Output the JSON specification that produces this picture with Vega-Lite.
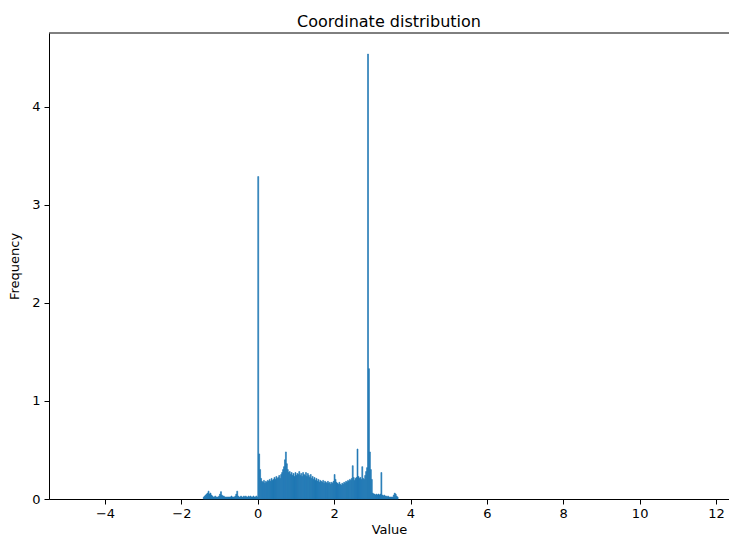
{
  "$schema": "https://vega.github.io/schema/vega-lite/v6.json",
  "width": 680,
  "height": 466,
  "autosize": {"type": "none"},
  "padding": {"left": 49, "top": 33, "right": 0, "bottom": 37},
  "background": "white",
  "title": {"text": "Coordinate distribution", "font": "DejaVu Sans", "fontSize": 16, "fontWeight": "normal", "color": "#000000", "anchor": "middle", "offset": 3},
  "config": {
    "view": {"stroke": null},
    "axis": {
      "domainColor": "#000000", "domainWidth": 1, "tickColor": "#000000", "tickWidth": 1, "tickSize": 5,
      "labelColor": "#000000", "labelFont": "DejaVu Sans", "labelFontSize": 13, "labelPadding": 3,
      "titleColor": "#000000", "titleFont": "DejaVu Sans", "titleFontSize": 13, "titleFontWeight": "normal",
      "grid": false, "labelFlush": false, "labelOverlap": false
    }
  },
  "datasets": {
    "hist": [
      {"x0": -1.425, "x1": -1.4, "density": 0.02},
      {"x0": -1.4, "x1": -1.375, "density": 0.03},
      {"x0": -1.375, "x1": -1.35, "density": 0.04},
      {"x0": -1.35, "x1": -1.325, "density": 0.05},
      {"x0": -1.325, "x1": -1.3, "density": 0.06},
      {"x0": -1.3, "x1": -1.275, "density": 0.08},
      {"x0": -1.275, "x1": -1.25, "density": 0.05},
      {"x0": -1.25, "x1": -1.225, "density": 0.06},
      {"x0": -1.225, "x1": -1.2, "density": 0.04},
      {"x0": -1.2, "x1": -1.175, "density": 0.03},
      {"x0": -1.175, "x1": -1.15, "density": 0.02},
      {"x0": -1.15, "x1": -1.125, "density": 0.02},
      {"x0": -1.125, "x1": -1.1, "density": 0.03},
      {"x0": -1.1, "x1": -1.075, "density": 0.02},
      {"x0": -1.075, "x1": -1.05, "density": 0.02},
      {"x0": -1.05, "x1": -1.025, "density": 0.02},
      {"x0": -1.025, "x1": -1.0, "density": 0.03},
      {"x0": -1.0, "x1": -0.975, "density": 0.05},
      {"x0": -0.975, "x1": -0.95, "density": 0.075},
      {"x0": -0.95, "x1": -0.925, "density": 0.04},
      {"x0": -0.925, "x1": -0.9, "density": 0.03},
      {"x0": -0.9, "x1": -0.875, "density": 0.03},
      {"x0": -0.875, "x1": -0.85, "density": 0.02},
      {"x0": -0.85, "x1": -0.825, "density": 0.02},
      {"x0": -0.825, "x1": -0.8, "density": 0.02},
      {"x0": -0.8, "x1": -0.775, "density": 0.02},
      {"x0": -0.775, "x1": -0.75, "density": 0.02},
      {"x0": -0.75, "x1": -0.725, "density": 0.02},
      {"x0": -0.725, "x1": -0.7, "density": 0.02},
      {"x0": -0.7, "x1": -0.675, "density": 0.03},
      {"x0": -0.675, "x1": -0.65, "density": 0.02},
      {"x0": -0.65, "x1": -0.625, "density": 0.02},
      {"x0": -0.625, "x1": -0.6, "density": 0.02},
      {"x0": -0.6, "x1": -0.575, "density": 0.03},
      {"x0": -0.575, "x1": -0.55, "density": 0.05},
      {"x0": -0.55, "x1": -0.525, "density": 0.08},
      {"x0": -0.525, "x1": -0.5, "density": 0.03},
      {"x0": -0.5, "x1": -0.475, "density": 0.02},
      {"x0": -0.475, "x1": -0.45, "density": 0.02},
      {"x0": -0.45, "x1": -0.425, "density": 0.03},
      {"x0": -0.425, "x1": -0.4, "density": 0.02},
      {"x0": -0.4, "x1": -0.375, "density": 0.02},
      {"x0": -0.375, "x1": -0.35, "density": 0.03},
      {"x0": -0.35, "x1": -0.325, "density": 0.02},
      {"x0": -0.325, "x1": -0.3, "density": 0.03},
      {"x0": -0.3, "x1": -0.275, "density": 0.02},
      {"x0": -0.275, "x1": -0.25, "density": 0.02},
      {"x0": -0.25, "x1": -0.225, "density": 0.03},
      {"x0": -0.225, "x1": -0.2, "density": 0.02},
      {"x0": -0.2, "x1": -0.175, "density": 0.03},
      {"x0": -0.175, "x1": -0.15, "density": 0.02},
      {"x0": -0.15, "x1": -0.125, "density": 0.02},
      {"x0": -0.125, "x1": -0.1, "density": 0.03},
      {"x0": -0.1, "x1": -0.075, "density": 0.02},
      {"x0": -0.075, "x1": -0.05, "density": 0.02},
      {"x0": -0.05, "x1": -0.025, "density": 0.03},
      {"x0": -0.025, "x1": 0.0, "density": 0.02},
      {"x0": 0.0, "x1": 0.025, "density": 3.29},
      {"x0": 0.025, "x1": 0.05, "density": 0.46},
      {"x0": 0.05, "x1": 0.075, "density": 0.3},
      {"x0": 0.075, "x1": 0.1, "density": 0.21},
      {"x0": 0.1, "x1": 0.125, "density": 0.18},
      {"x0": 0.125, "x1": 0.15, "density": 0.17},
      {"x0": 0.15, "x1": 0.175, "density": 0.19},
      {"x0": 0.175, "x1": 0.2, "density": 0.16},
      {"x0": 0.2, "x1": 0.225, "density": 0.18},
      {"x0": 0.225, "x1": 0.25, "density": 0.17},
      {"x0": 0.25, "x1": 0.275, "density": 0.19},
      {"x0": 0.275, "x1": 0.3, "density": 0.18},
      {"x0": 0.3, "x1": 0.325, "density": 0.2},
      {"x0": 0.325, "x1": 0.35, "density": 0.18},
      {"x0": 0.35, "x1": 0.375, "density": 0.21},
      {"x0": 0.375, "x1": 0.4, "density": 0.19},
      {"x0": 0.4, "x1": 0.425, "density": 0.2},
      {"x0": 0.425, "x1": 0.45, "density": 0.22},
      {"x0": 0.45, "x1": 0.475, "density": 0.2},
      {"x0": 0.475, "x1": 0.5, "density": 0.23},
      {"x0": 0.5, "x1": 0.525, "density": 0.21},
      {"x0": 0.525, "x1": 0.55, "density": 0.22},
      {"x0": 0.55, "x1": 0.575, "density": 0.24},
      {"x0": 0.575, "x1": 0.6, "density": 0.21},
      {"x0": 0.6, "x1": 0.625, "density": 0.25},
      {"x0": 0.625, "x1": 0.65, "density": 0.27},
      {"x0": 0.65, "x1": 0.675, "density": 0.3},
      {"x0": 0.675, "x1": 0.7, "density": 0.33},
      {"x0": 0.7, "x1": 0.725, "density": 0.4},
      {"x0": 0.725, "x1": 0.75, "density": 0.48},
      {"x0": 0.75, "x1": 0.775, "density": 0.36},
      {"x0": 0.775, "x1": 0.8, "density": 0.3},
      {"x0": 0.8, "x1": 0.825, "density": 0.27},
      {"x0": 0.825, "x1": 0.85, "density": 0.28},
      {"x0": 0.85, "x1": 0.875, "density": 0.25},
      {"x0": 0.875, "x1": 0.9, "density": 0.27},
      {"x0": 0.9, "x1": 0.925, "density": 0.24},
      {"x0": 0.925, "x1": 0.95, "density": 0.26},
      {"x0": 0.95, "x1": 0.975, "density": 0.23},
      {"x0": 0.975, "x1": 1.0, "density": 0.27},
      {"x0": 1.0, "x1": 1.025, "density": 0.24},
      {"x0": 1.025, "x1": 1.05, "density": 0.26},
      {"x0": 1.05, "x1": 1.075, "density": 0.25},
      {"x0": 1.075, "x1": 1.1, "density": 0.28},
      {"x0": 1.1, "x1": 1.125, "density": 0.24},
      {"x0": 1.125, "x1": 1.15, "density": 0.26},
      {"x0": 1.15, "x1": 1.175, "density": 0.23},
      {"x0": 1.175, "x1": 1.2, "density": 0.27},
      {"x0": 1.2, "x1": 1.225, "density": 0.25},
      {"x0": 1.225, "x1": 1.25, "density": 0.24},
      {"x0": 1.25, "x1": 1.275, "density": 0.27},
      {"x0": 1.275, "x1": 1.3, "density": 0.23},
      {"x0": 1.3, "x1": 1.325, "density": 0.26},
      {"x0": 1.325, "x1": 1.35, "density": 0.24},
      {"x0": 1.35, "x1": 1.375, "density": 0.22},
      {"x0": 1.375, "x1": 1.4, "density": 0.25},
      {"x0": 1.4, "x1": 1.425, "density": 0.21},
      {"x0": 1.425, "x1": 1.45, "density": 0.23},
      {"x0": 1.45, "x1": 1.475, "density": 0.2},
      {"x0": 1.475, "x1": 1.5, "density": 0.22},
      {"x0": 1.5, "x1": 1.525, "density": 0.19},
      {"x0": 1.525, "x1": 1.55, "density": 0.21},
      {"x0": 1.55, "x1": 1.575, "density": 0.18},
      {"x0": 1.575, "x1": 1.6, "density": 0.2},
      {"x0": 1.6, "x1": 1.625, "density": 0.17},
      {"x0": 1.625, "x1": 1.65, "density": 0.19},
      {"x0": 1.65, "x1": 1.675, "density": 0.18},
      {"x0": 1.675, "x1": 1.7, "density": 0.17},
      {"x0": 1.7, "x1": 1.725, "density": 0.19},
      {"x0": 1.725, "x1": 1.75, "density": 0.16},
      {"x0": 1.75, "x1": 1.775, "density": 0.18},
      {"x0": 1.775, "x1": 1.8, "density": 0.17},
      {"x0": 1.8, "x1": 1.825, "density": 0.16},
      {"x0": 1.825, "x1": 1.85, "density": 0.18},
      {"x0": 1.85, "x1": 1.875, "density": 0.16},
      {"x0": 1.875, "x1": 1.9, "density": 0.17},
      {"x0": 1.9, "x1": 1.925, "density": 0.15},
      {"x0": 1.925, "x1": 1.95, "density": 0.17},
      {"x0": 1.95, "x1": 1.975, "density": 0.16},
      {"x0": 1.975, "x1": 2.0, "density": 0.18},
      {"x0": 2.0, "x1": 2.025, "density": 0.25},
      {"x0": 2.025, "x1": 2.05, "density": 0.2},
      {"x0": 2.05, "x1": 2.075, "density": 0.17},
      {"x0": 2.075, "x1": 2.1, "density": 0.16},
      {"x0": 2.1, "x1": 2.125, "density": 0.15},
      {"x0": 2.125, "x1": 2.15, "density": 0.17},
      {"x0": 2.15, "x1": 2.175, "density": 0.15},
      {"x0": 2.175, "x1": 2.2, "density": 0.14},
      {"x0": 2.2, "x1": 2.225, "density": 0.16},
      {"x0": 2.225, "x1": 2.25, "density": 0.15},
      {"x0": 2.25, "x1": 2.275, "density": 0.17},
      {"x0": 2.275, "x1": 2.3, "density": 0.16},
      {"x0": 2.3, "x1": 2.325, "density": 0.18},
      {"x0": 2.325, "x1": 2.35, "density": 0.17},
      {"x0": 2.35, "x1": 2.375, "density": 0.19},
      {"x0": 2.375, "x1": 2.4, "density": 0.18},
      {"x0": 2.4, "x1": 2.425, "density": 0.2},
      {"x0": 2.425, "x1": 2.45, "density": 0.19},
      {"x0": 2.45, "x1": 2.475, "density": 0.21},
      {"x0": 2.475, "x1": 2.5, "density": 0.34},
      {"x0": 2.5, "x1": 2.525, "density": 0.22},
      {"x0": 2.525, "x1": 2.55, "density": 0.19},
      {"x0": 2.55, "x1": 2.575, "density": 0.21},
      {"x0": 2.575, "x1": 2.6, "density": 0.22},
      {"x0": 2.6, "x1": 2.625, "density": 0.51},
      {"x0": 2.625, "x1": 2.65, "density": 0.23},
      {"x0": 2.65, "x1": 2.675, "density": 0.21},
      {"x0": 2.675, "x1": 2.7, "density": 0.22},
      {"x0": 2.7, "x1": 2.725, "density": 0.2},
      {"x0": 2.725, "x1": 2.75, "density": 0.33},
      {"x0": 2.75, "x1": 2.775, "density": 0.21},
      {"x0": 2.775, "x1": 2.8, "density": 0.2},
      {"x0": 2.8, "x1": 2.825, "density": 0.24},
      {"x0": 2.825, "x1": 2.85, "density": 0.28},
      {"x0": 2.85, "x1": 2.875, "density": 0.32},
      {"x0": 2.875, "x1": 2.9, "density": 4.54},
      {"x0": 2.9, "x1": 2.925, "density": 1.33},
      {"x0": 2.925, "x1": 2.95, "density": 0.48},
      {"x0": 2.95, "x1": 2.975, "density": 0.3},
      {"x0": 2.975, "x1": 3.0, "density": 0.2},
      {"x0": 3.0, "x1": 3.025, "density": 0.06},
      {"x0": 3.025, "x1": 3.05, "density": 0.05},
      {"x0": 3.05, "x1": 3.075, "density": 0.05},
      {"x0": 3.075, "x1": 3.1, "density": 0.04},
      {"x0": 3.1, "x1": 3.125, "density": 0.05},
      {"x0": 3.125, "x1": 3.15, "density": 0.04},
      {"x0": 3.15, "x1": 3.175, "density": 0.05},
      {"x0": 3.175, "x1": 3.2, "density": 0.04},
      {"x0": 3.2, "x1": 3.225, "density": 0.05},
      {"x0": 3.225, "x1": 3.25, "density": 0.27},
      {"x0": 3.25, "x1": 3.275, "density": 0.04},
      {"x0": 3.275, "x1": 3.3, "density": 0.03},
      {"x0": 3.3, "x1": 3.325, "density": 0.04},
      {"x0": 3.325, "x1": 3.35, "density": 0.03},
      {"x0": 3.35, "x1": 3.375, "density": 0.03},
      {"x0": 3.375, "x1": 3.4, "density": 0.02},
      {"x0": 3.4, "x1": 3.425, "density": 0.03},
      {"x0": 3.425, "x1": 3.45, "density": 0.02},
      {"x0": 3.45, "x1": 3.475, "density": 0.02},
      {"x0": 3.475, "x1": 3.5, "density": 0.02},
      {"x0": 3.5, "x1": 3.525, "density": 0.02},
      {"x0": 3.525, "x1": 3.55, "density": 0.02},
      {"x0": 3.55, "x1": 3.575, "density": 0.04},
      {"x0": 3.575, "x1": 3.6, "density": 0.06},
      {"x0": 3.6, "x1": 3.625, "density": 0.05},
      {"x0": 3.625, "x1": 3.65, "density": 0.03},
      {"x0": 3.65, "x1": 3.675, "density": 0.02}
    ]
  },
  "layer": [
    {
      "data": {"name": "hist"},
      "mark": {"type": "rect", "color": "#1f77b4", "stroke": "#1f77b4", "strokeWidth": 0.6},
      "encoding": {
        "x": {"field": "x0", "type": "quantitative",
          "scale": {"domain": [-5.466, 12.34], "nice": false, "zero": false, "padding": 0},
          "axis": {"title": "Value", "values": [-4, -2, 0, 2, 4, 6, 8, 10, 12], "format": "d", "titlePadding": 3}},
        "x2": {"field": "x1"},
        "y": {"field": "density", "type": "quantitative",
          "scale": {"domain": [0, 4.755], "nice": false, "padding": 0},
          "axis": {"title": "Frequency", "values": [0, 1, 2, 3, 4], "format": "d", "labelPadding": 4, "titlePadding": 10}},
        "y2": {"datum": 0}
      }
    },
    {
      "data": {"values": [{}]},
      "mark": {"type": "rule", "color": "#000000", "strokeWidth": 1},
      "encoding": {"y": {"datum": 4.755}}
    }
  ]
}
